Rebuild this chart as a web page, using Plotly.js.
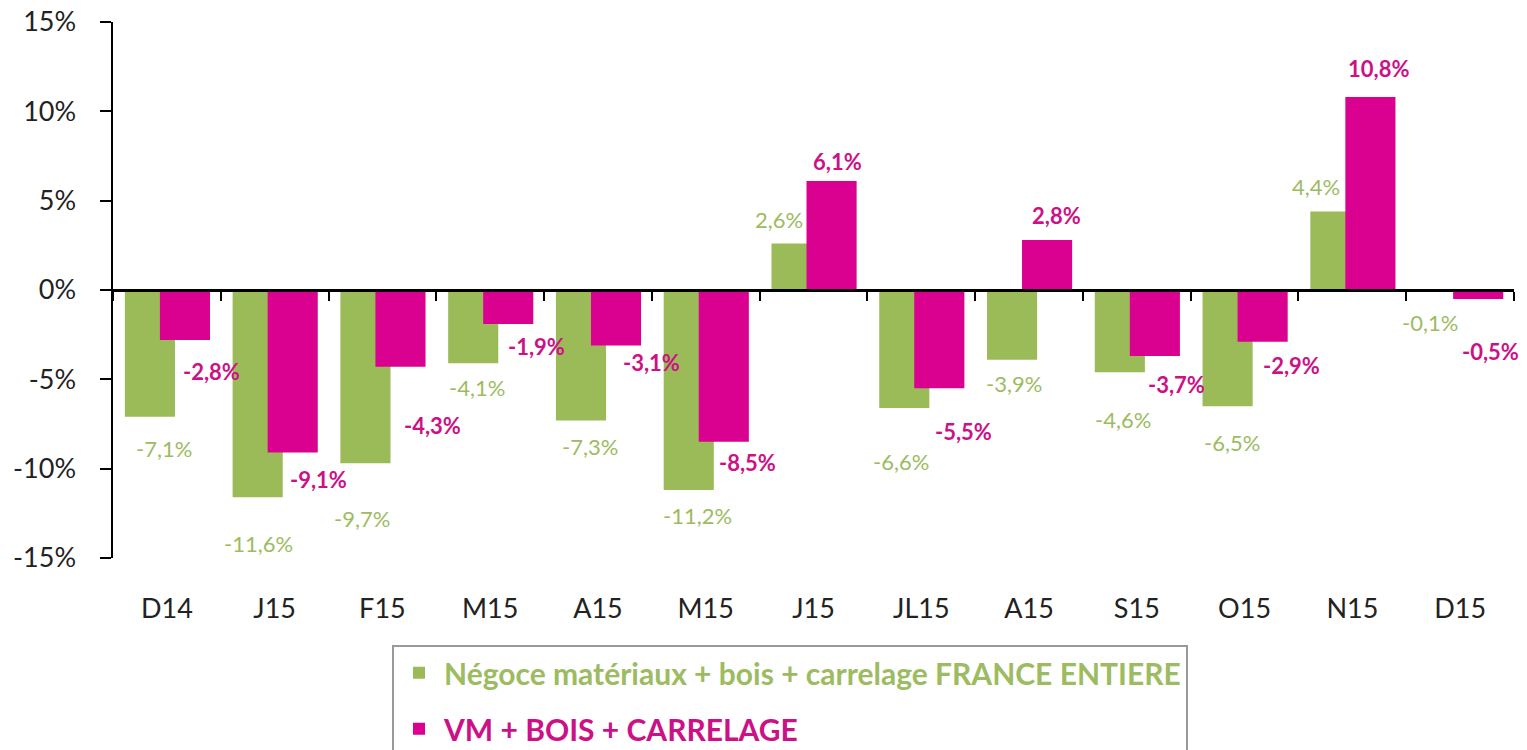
<!DOCTYPE html>
<html>
<head>
<meta charset="utf-8">
<script src="https://cdn.plot.ly/plotly-3.0.1.min.js"></script>
<style>html,body{margin:0;padding:0;background:#fff;}#chart{width:1527px;height:750px;}</style>
</head>
<body>
<div id="chart"></div>
<script>
const categories = ["D14","J15","F15","M15","A15","M15","J15","JL15","A15","S15","O15","N15","D15"];
const negoceValues = [-7.1,-11.6,-9.7,-4.1,-7.3,-11.2,2.6,-6.6,-3.9,-4.6,-6.5,4.4,-0.1];
const vmValues = [-2.8,-9.1,-4.3,-1.9,-3.1,-8.5,6.1,-5.5,2.8,-3.7,-2.9,10.8,-0.5];
const seriesNames = ["Négoce matériaux + bois + carrelage FRANCE ENTIERE","VM + BOIS + CARRELAGE"];
const yTicks = [-15,-10,-5,0,5,10,15];

// label nudges in pixels (dx right, dy down from bar end) - placement only
const negoceLabelDx = [14,1,-3,4,9,9,-18,-3,2,3,4,-19,-13];
const negoceLabelDy = [32,46,55,24,26,25,-24,54,24,47,36,-25,31];
const vmLabelDx = [27,26,32,28,35,24,6,24,9,22,29,8,12];
const vmLabelDy = [31,27,59,23,17,21,-20,43,-24,28,24,-29,53];

const GREEN = "#9BBB59", GREEN_TXT = "#9DBB61", MAGENTA = "#DA0090", MAG_TXT = "#CC1187";
const FONT = "Lato, 'Open Sans', sans-serif";
const idx = categories.map((c,i)=>i);
const W = 0.465, OFF_G = -0.39, OFF_M = -0.065;
const fmt = v => v.toFixed(1).replace('.', ',') + '%';
const bounds = idx.map(i=>i-0.5).concat([categories.length-0.5]);

const traces = [
  {type:'bar', x:idx, y:negoceValues, width:W, offset:OFF_G, name:'<b><span style="color:'+GREEN_TXT+'">'+seriesNames[0]+'</span></b>',
   marker:{color:GREEN}, legendgroup:'a'},
  {type:'bar', x:idx, y:vmValues, width:W, offset:OFF_M, name:'<b><span style="color:'+MAG_TXT+'">'+seriesNames[1]+'</span></b>',
   marker:{color:MAGENTA}, legendgroup:'b'},
  {type:'scatter', x:[bounds[0]], y:[0], xaxis:'x2', yaxis:'y', mode:'markers', marker:{opacity:0, size:1}, showlegend:false}
];

const annotations = [];
negoceValues.forEach((v,i)=>{
  annotations.push({x:i+OFF_G+W/2, y:v, xref:'x', yref:'y', text:fmt(v), showarrow:false,
    xanchor:'center', yanchor:'middle', xshift:negoceLabelDx[i], yshift:-negoceLabelDy[i],
    font:{family:FONT, size:22, color:GREEN_TXT}});
});
vmValues.forEach((v,i)=>{
  annotations.push({x:i+OFF_M+W/2, y:v, xref:'x', yref:'y', text:'<b>'+fmt(v)+'</b>', showarrow:false,
    xanchor:'center', yanchor:'middle', xshift:vmLabelDx[i], yshift:-vmLabelDy[i],
    font:{family:FONT, size:22, color:MAG_TXT}});
});

const layout = {
  width:1527, height:750,
  margin:{l:113, r:13, t:22, b:192, autoexpand:false},
  paper_bgcolor:'#fff', plot_bgcolor:'#fff',
  barmode:'overlay',
  showlegend:true,
  font:{family:FONT, size:27, color:'#222'},
  xaxis:{range:[-0.5, categories.length-0.5], tickvals:idx, ticktext:categories, showline:false, showgrid:false, zeroline:false,
         ticks:'', ticklabelstandoff:32, tickfont:{family:FONT, size:27, color:'#222'}, fixedrange:true},
  xaxis2:{overlaying:'x', anchor:'free', position:0.5, side:'bottom', range:[-0.5, categories.length-0.5],
          tickvals:bounds, showticklabels:false, ticks:'outside', ticklen:9, tickwidth:2, tickcolor:'#000',
          showline:true, linecolor:'#000', linewidth:3, showgrid:false, zeroline:false},
  yaxis:{range:[-15,15], tickvals:yTicks, ticktext:yTicks.map(v=>v+'%'), showgrid:false, zeroline:false,
         showline:true, linecolor:'#000', linewidth:2.5, ticks:'outside', ticklen:11, tickwidth:2, tickcolor:'#000',
         ticklabelstandoff:18, tickfont:{family:FONT, size:27, color:'#222'}},
  legend:{x:(392-113)/1401, xanchor:'left', y:-0.162, yanchor:'top', orientation:'v', itemwidth:40,
          bordercolor:'#999', borderwidth:2, bgcolor:'#fff', traceorder:'grouped', tracegroupgap:14,
          font:{family:FONT, size:30}},
  annotations:annotations
};
Plotly.newPlot('chart', traces, layout, {displayModeBar:false, staticPlot:true});
</script>
</body>
</html>
